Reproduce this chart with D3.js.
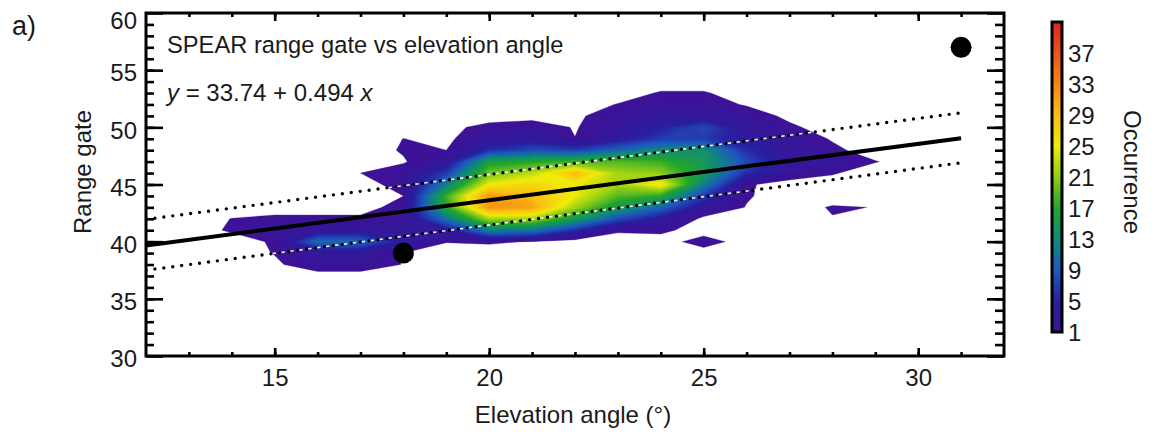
<!DOCTYPE html>
<html><head><meta charset="utf-8">
<script src="https://cdn.jsdelivr.net/npm/d3@7"></script>
<style>
html,body{margin:0;padding:0;background:#fff;}
svg text{font-family:"Liberation Sans",Arial,Helvetica,sans-serif;fill:#1a1a1a;}
</style></head><body>
<svg id="chart" width="1157" height="441"></svg>
<script>
// ---------- data ----------
const xDomain = [12, 32];
const yDomain = [30, 60];
const xMajor = [15, 20, 25, 30];
const xMinor = [13,14,15,16,17,18,19,20,21,22,23,24,25,26,27,28,29,30,31];
const yMajor = [30, 35, 40, 45, 50, 55, 60];
const yMinor = [31,32,33,34,35,36,37,38,39,40,41,42,43,44,45,46,47,48,49,50,51,52,53,54,55,56,57,58,59];
const cbTicks = [1, 5, 9, 13, 17, 21, 25, 29, 33, 37];
const cbDomain = [1, 41];

const elevations = [13,14,15,16,17,18,19,20,21,22,23,24,25,26,27,28,29,30];
const rangeGates = [54,53,52,51,50,49,48,47,46,45,44,43,42,41,40,39,38,37,36];
const occurrence = [
 // 13 14   15   16   17   18   19   20   21   22   23   24   25   26   27   28   29   30
 [0,0,   0,   0,   0,   0,   0,   0,   0,   0,   0,   0,   0,   0,   0,   0,   0,   0], //54
 [0,0,   0,   0,   0,   0,   0,   0,   0,   0,   0,   1.2, 1.2, 0,   0,   0,   0,   0], //53
 [0,0,   0,   0,   0,   0,   0,   0,   0,   0,   1.1, 2,   2,   0.8, 0,   0,   0,   0], //52
 [0,0,   0,   0,   0,   0,   0,   0,   0,   0.5, 2.5, 3,   3,   2.2, 0.5, 0,   0,   0], //51
 [0,0,   0,   0,   0,   0,   0.4, 1.7, 2.5, 0.8, 3,   5,   8,   3,   1.4, 0,   0,   0], //50
 [0,0,   0,   0,   0,   1.02,0.5, 3,   4,   1.05,4,   7,   7,   4,   2.5, 0.8, 0,   0], //49
 [0,0,   0,   0,   0,   1.2, 1.0, 6,   8,   7,   10,  13,  14,  6,   3,   1.5, 0,   0], //48
 [0,0,   0,   0,   0,   0.8, 3,   16,  17,  18,  19,  18,  15,  8,   3,   2.5, 1.1, 0], //47
 [0,0,   0,   0,   1.0, 2,   7,   20,  23,  29,  22,  21,  15,  6,   2.5, 1.2, 0,   0], //46
 [0,0,   0,   0,   0.5, 1.5, 12,  25,  27,  25,  22,  26,  12,  1.3, 0,   0,   0,   0], //45
 [0,0,   0,   0,   0,   1.0, 18,  32,  29,  25,  19,  17,  7,   1.2, 0,   0,   0,   0], //44
 [0,0,   0,   0,   0,   2,   17,  32,  31,  22,  15,  10,  3,   0.9, 0,   1.2, 0.95,0], //43
 [0,1.05,1.5, 1.5, 1.5, 1.6, 11,  22,  22,  15,  8,   4,   0.5, 0,   0,   0.9, 0,   0], //42
 [0,1.3, 2,   3,   3,   3,   4,   12,  11,  6,   1.3, 1.5, 0,   0,   0,   0,   0,   0], //41
 [0,0,   1.3, 10.5,10,  4,   1.1, 1.3, 0.9, 0,   0,   0,   2,   0,   0,   0,   0,   0], //40
 [0,0,   1.1, 3,   3,   0.95,0,   0,   0,   0,   0,   0,   0,   0,   0,   0,   0,   0], //39
 [0,0,   0.6, 2.5, 2.5, 0.9, 0,   0,   0,   0,   0,   0,   0,   0,   0,   0,   0,   0], //38
 [0,0,   0,   0,   0,   0,   0,   0,   0,   0,   0,   0,   0,   0,   0,   0,   0,   0], //37
 [0,0,   0,   0,   0,   0,   0,   0,   0,   0,   0,   0,   0,   0,   0,   0,   0,   0]  //36
];

const fitIntercept = 33.74, fitSlope = 0.494;
const fitX = [12, 31];
const bandUpper = [41.95, 51.27];
const bandLower = [37.5, 46.9];
const markers = [[18, 39], [31, 57]];

const colorStops = [1, 5, 9, 13, 17, 21, 25, 29, 33, 37, 41];
const colorValues = ["#3e1296","#2a1fa0","#1e5abe","#0f8c78","#23a52d","#8ccd19","#f0eb0a","#fabe14","#f58714","#eb5519","#e1231e"];

// ---------- setup ----------
const svg = d3.select("#chart");
const x = d3.scaleLinear().domain(xDomain).range([146, 1004]);
const y = d3.scaleLinear().domain(yDomain).range([356, 13]);
const color = d3.scaleLinear().domain(colorStops).range(colorValues).interpolate(d3.interpolateRgb).clamp(true);
const FS = "24px";

// ---------- filled contours ----------
const nx = elevations.length, ny = rangeGates.length;
const flat = occurrence.flat();
// calibrate grid-space offset of d3.contours
const test = new Array(25).fill(0); test[12] = 2;
const tc = d3.contours().size([5,5]).thresholds([1])(test)[0];
const cen = d3.polygonCentroid(tc.coordinates[0][0]);
const off = cen[0] - 2;
const gx = d3.scaleLinear().domain([off, nx - 1 + off]).range([elevations[0], elevations[nx-1]]);
const gy = d3.scaleLinear().domain([off, ny - 1 + off]).range([rangeGates[0], rangeGates[ny-1]]);
const proj = d3.geoTransform({point(px, py){ this.stream.point(x(gx(px)), y(gy(py))); }});
const path = d3.geoPath(proj);
const thresholds = d3.range(1, 41, 0.25);
const contours = d3.contours().size([nx, ny]).thresholds(thresholds)(flat);
svg.append("defs").append("clipPath").attr("id","clip").append("rect")
  .attr("x",146).attr("y",13).attr("width",858).attr("height",343);
svg.append("g").attr("clip-path","url(#clip)")
  .selectAll("path").data(contours).join("path")
  .attr("d", path).attr("fill", d => color(d.value)).attr("stroke", d => color(d.value)).attr("stroke-width", 0.3);

// ---------- fit lines ----------
const lg = svg.append("g").attr("clip-path","url(#clip)");
function bandLine(vals){ return fitX.map((xx,i)=>[x(xx), y(vals[i])]); }
const line = d3.line();
[bandUpper, bandLower].forEach(b => {
  lg.append("path").attr("d", line(bandLine(b))).attr("fill","none")
    .attr("stroke","#fff").attr("stroke-width",1.6).attr("stroke-dasharray","5 4").attr("opacity",0.9);
  lg.append("path").attr("d", line(bandLine(b))).attr("fill","none")
    .attr("stroke","#000").attr("stroke-width",3.4).attr("stroke-linecap","round").attr("stroke-dasharray","0 9");
});
lg.append("path").attr("d", line(fitX.map(xx => [x(xx), y(fitIntercept + fitSlope*xx)])))
  .attr("fill","none").attr("stroke","#000").attr("stroke-width",4);

// ---------- markers ----------
svg.append("g").selectAll("circle").data(markers).join("circle")
  .attr("cx", d => x(d[0])).attr("cy", d => y(d[1])).attr("r", 10.5).attr("fill","#000");

// ---------- axes ----------
function axisGroup(axis, transform){
  const g = svg.append("g").attr("transform", transform).call(axis);
  g.attr("font-size", null).attr("font-family", null);
  g.select(".domain").remove();
  g.selectAll("line").attr("stroke","#000").attr("stroke-width",2.6);
  g.selectAll("text").style("font-size",FS).attr("fill","#1a1a1a");
  return g;
}
axisGroup(d3.axisBottom(x).tickValues(xMinor).tickSize(-4).tickFormat(""), "translate(0,356)");
axisGroup(d3.axisBottom(x).tickValues(xMajor).tickSize(-8).tickPadding(13).tickFormat(d3.format("d")), "translate(0,356)");
axisGroup(d3.axisTop(x).tickValues(xMinor).tickSize(-4).tickFormat(""), "translate(0,13)");
axisGroup(d3.axisTop(x).tickValues(xMajor).tickSize(-8).tickFormat(""), "translate(0,13)");
axisGroup(d3.axisLeft(y).tickValues(yMinor).tickSize(-8).tickFormat(""), "translate(146,0)");
const ly = axisGroup(d3.axisLeft(y).tickValues(yMajor).tickSize(-17).tickPadding(9).tickFormat(d3.format("d")), "translate(146,0)");
ly.selectAll("text").attr("dy","0.45em");
ly.selectAll("text").filter(d => d === yDomain[1]).attr("dy","0.66em");
axisGroup(d3.axisRight(y).tickValues(yMinor).tickSize(-9).tickFormat(""), "translate(1004,0)");
axisGroup(d3.axisRight(y).tickValues(yMajor).tickSize(-17).tickFormat(""), "translate(1004,0)");
svg.append("rect").attr("x",146).attr("y",13).attr("width",858).attr("height",343)
  .attr("fill","none").attr("stroke","#000").attr("stroke-width",3);

// ---------- texts ----------
svg.append("text").attr("x",12).attr("y",35).style("font-size","27px").text("a)");
svg.append("text").attr("x",167).attr("y",53).style("font-size","23.7px").text("SPEAR range gate vs elevation angle");
const eq = svg.append("text").attr("x",167).attr("y",101).style("font-size",FS);
eq.append("tspan").style("font-style","italic").text("y");
eq.append("tspan").text(" = 33.74 + 0.494 ");
eq.append("tspan").style("font-style","italic").text("x");
svg.append("text").attr("x",573).attr("y",423).attr("text-anchor","middle").style("font-size",FS).text("Elevation angle (°)");
svg.append("text").attr("transform","translate(91,172) rotate(-90)").attr("text-anchor","middle").style("font-size",FS).text("Range gate");
svg.append("text").attr("transform","translate(1124,172) rotate(90)").attr("text-anchor","middle").style("font-size",FS).text("Occurrence");

// ---------- colorbar ----------
const cb = d3.scaleLinear().domain(cbDomain).range([332, 22]);
const grad = svg.select("defs").append("linearGradient").attr("id","cbgrad")
  .attr("x1",0).attr("y1",1).attr("x2",0).attr("y2",0);
grad.selectAll("stop").data(colorStops).join("stop")
  .attr("offset", d => (d - cbDomain[0])/(cbDomain[1]-cbDomain[0]))
  .attr("stop-color", d => color(d));
svg.append("rect").attr("x",1052).attr("y",cb(cbDomain[1])).attr("width",10)
  .attr("height", cb(cbDomain[0]) - cb(cbDomain[1]))
  .attr("fill","url(#cbgrad)").attr("stroke","#000").attr("stroke-width",3);
svg.append("g").selectAll("text").data(cbTicks).join("text")
  .attr("x",1068).attr("y", d => cb(d)).attr("dy","0.36em").style("font-size",FS).text(d => d);
</script>
</body></html>
